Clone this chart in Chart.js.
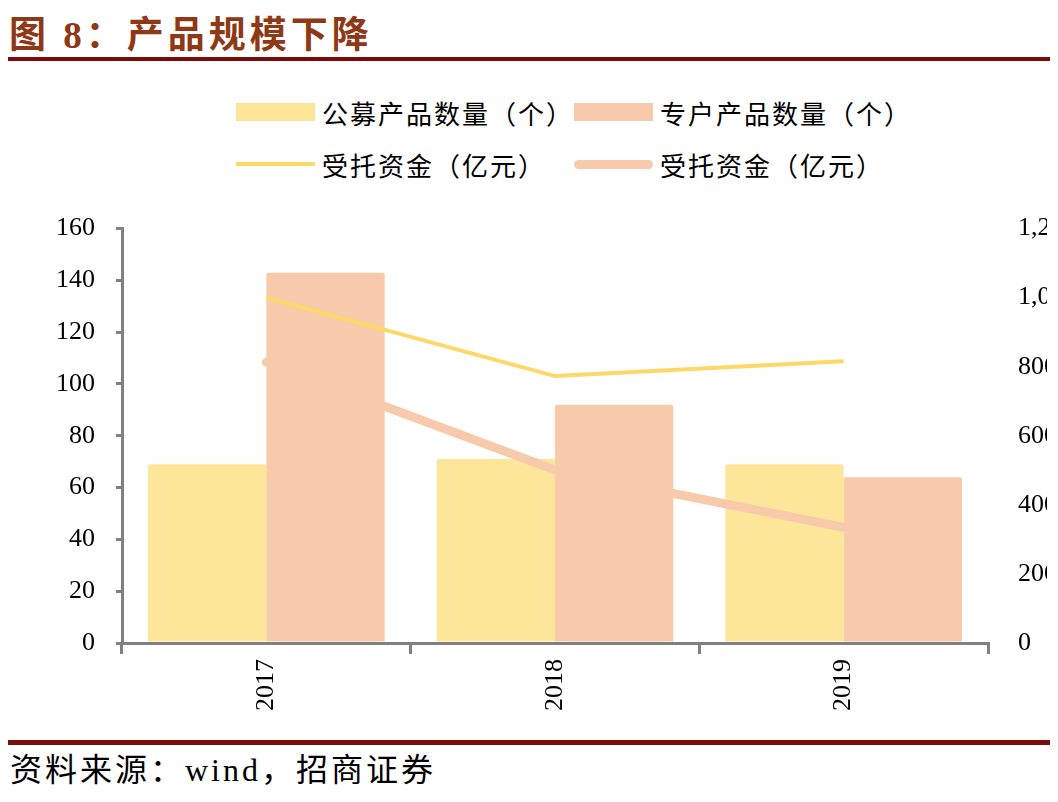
<!DOCTYPE html>
<html>
<head>
<meta charset="utf-8">
<script src="https://cdn.jsdelivr.net/npm/chart.js@4/dist/chart.umd.min.js"></script>
<style>
  html, body { margin: 0; padding: 0; background: #fff; }
  body { width: 1058px; height: 802px; position: relative; overflow: hidden;
         font-family: "Liberation Serif", "Noto Sans CJK SC", serif; }
  #title { position: absolute; left: 9px; top: 5px; font-size: 37px; font-weight: bold;
           color: #8e3816; letter-spacing: 4px; white-space: nowrap; }
  .rule { position: absolute; left: 8px; width: 1042px; background: #7b0c0c; }
  #legend { position: absolute; left: 236px; top: 86px; display: grid;
            grid-template-columns: 338px 338px; grid-auto-rows: 52px; }
  .item { display: flex; align-items: center; font-size: 26px; color: #000;
          letter-spacing: 2px; white-space: nowrap; }
  .swatch { width: 79px; margin-right: 7px; flex: none; }
  #clip { position: absolute; left: 0; top: 191px; width: 1047px; height: 530px; overflow: hidden; }
  #box { position: relative; width: 1090px; height: 530px; }
  #source { position: absolute; left: 10px; top: 744px; font-size: 32px; color: #000;
            letter-spacing: 3px; white-space: nowrap; }
</style>
</head>
<body>
<div id="title">图 8：产品规模下降</div>
<div class="rule" style="top:57px;height:4px"></div>
<div id="legend"></div>
<div id="clip"><div id="box"><canvas id="scaleChart"></canvas></div></div>
<div class="rule" style="top:740px;height:5px"></div>
<div id="source">资料来源：wind，招商证券</div>
<script>
const years = ['2017', '2018', '2019'];
const publicCount = [69, 71, 69];        // 公募产品数量（个）
const privateCount = [143, 92, 64];      // 专户产品数量（个）
const publicFunds = [1000, 773, 816];    // 受托资金（亿元） yellow
const privateFunds = [813, 501, 335];    // 受托资金（亿元） salmon
const leftTicks = [0, 160, 20];
const rightTicks = [0, 1200, 200];

const axisGrey = '#808080';
const tickFont = { family: 'Liberation Serif', size: 26 };

const ctx = document.getElementById('scaleChart').getContext('2d');

const data = {
  labels: years,
  datasets: [
    {
      type: 'bar', label: '公募产品数量（个）', data: publicCount, yAxisID: 'y',
      backgroundColor: '#fde59a', borderRadius: 2, order: 2,
      categoryPercentage: 0.82, barPercentage: 1.0
    },
    {
      type: 'bar', label: '专户产品数量（个）', data: privateCount, yAxisID: 'y',
      backgroundColor: '#f6caab', borderRadius: 2, order: 2,
      categoryPercentage: 0.82, barPercentage: 1.0
    },
    {
      type: 'line', label: '受托资金（亿元）', data: publicFunds, yAxisID: 'y1',
      borderColor: '#fdd866', borderWidth: 4, pointRadius: 0, order: 1, tension: 0
    },
    {
      type: 'line', label: '受托资金（亿元）', data: privateFunds, yAxisID: 'y1',
      borderColor: '#f6caab', borderWidth: 9, borderCapStyle: 'round', pointRadius: 0, order: 1, tension: 0
    }
  ]
};

const config = {
  data: data,
  options: {
    responsive: true,
    maintainAspectRatio: false,
    animation: false,
    layout: { padding: { top: 5, left: 0, right: 0, bottom: 0 } },
    plugins: {
      legend: { display: false },
      tooltip: { enabled: false }
    },
    scales: {
      x: {
        offset: true,
        grid: { display: true, drawOnChartArea: false, drawTicks: true, tickLength: 11,
                color: axisGrey, lineWidth: 3, offset: true },
        border: { display: true, color: axisGrey, width: 3 },
        ticks: { minRotation: 90, maxRotation: 90, padding: 5, color: '#000', font: tickFont },
        afterFit: s => { s.height = 78; }
      },
      y: {
        position: 'left',
        min: leftTicks[0], max: leftTicks[1],
        grid: { display: true, drawOnChartArea: false, drawTicks: true, tickLength: 6,
                color: axisGrey, lineWidth: 3 },
        border: { display: true, color: axisGrey, width: 3 },
        ticks: { stepSize: leftTicks[2], padding: 21, color: '#000', font: tickFont },
        afterFit: s => { s.width = 122; }
      },
      y1: {
        position: 'right',
        min: rightTicks[0], max: rightTicks[1],
        grid: { display: false },
        border: { display: false },
        ticks: { stepSize: rightTicks[2], padding: 22, color: '#000', font: tickFont },
        afterFit: s => { s.width = 102; }
      }
    }
  }
};

const scaleChart = new Chart(ctx, config);

// html legend, two per row like the original
const legendBox = document.getElementById('legend');
scaleChart.data.datasets.forEach(ds => {
  const item = document.createElement('div');
  item.className = 'item';
  const sw = document.createElement('span');
  sw.className = 'swatch';
  if (ds.type === 'bar') {
    sw.style.height = '18px';
    sw.style.background = ds.backgroundColor;
  } else {
    sw.style.height = ds.borderWidth + 'px';
    sw.style.background = ds.borderColor;
    if (ds.borderCapStyle === 'round') sw.style.borderRadius = (ds.borderWidth / 2) + 'px';
  }
  const txt = document.createElement('span');
  txt.textContent = ds.label;
  item.appendChild(sw);
  item.appendChild(txt);
  legendBox.appendChild(item);
});
</script>
</body>
</html>
